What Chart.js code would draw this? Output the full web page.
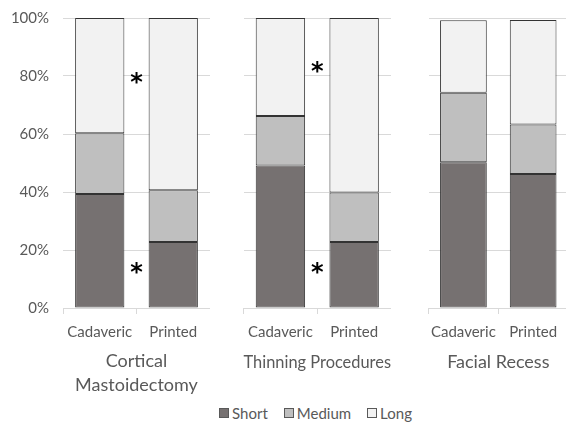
<!DOCTYPE html>
<html>
<head>
<meta charset="utf-8">
<script src="https://cdn.jsdelivr.net/npm/chart.js@4.4.2/dist/chart.umd.min.js"></script>
<style>
  html, body { margin: 0; padding: 0; background: #fff; overflow: hidden; }
  body { width: 566px; height: 423px; position: relative; font-family: Lato, sans-serif; }
  .panel { position: absolute; top: 0; height: 400px; }
  #legend {
    position: absolute; left: 63px; width: 505px; top: 403px; height: 20px;
    display: flex; justify-content: center; align-items: center;
    font-size: 15px; color: #595959;
  }
  #legend .item { display: flex; align-items: center; margin: 0 8px; }
  #legend .box { width: 8px; height: 8px; border: 1px solid #595959; margin-right: 3px; }
</style>
</head>
<body>
<div class="panel" style="left:0;width:210px"><canvas id="p1"></canvas></div>
<div class="panel" style="left:239px;width:152px"><canvas id="p2"></canvas></div>
<div class="panel" style="left:422px;width:146px"><canvas id="p3"></canvas></div>
<div id="legend"></div>
<script>
const categories = ['Cadaveric', 'Printed'];
const seriesNames = ['Short', 'Medium', 'Long'];
const seriesColors = ['#767171', '#bfbfbf', '#f2f2f2'];

// percent of procedures in each time band
const corticalShort = [39.3, 22.8];
const corticalMedium = [21.0, 17.8];
const corticalLong = [39.7, 59.4];

const thinningShort = [49.1, 22.8];
const thinningMedium = [17.1, 17.0];
const thinningLong = [33.8, 60.2];

const facialShort = [50.3, 46.2];
const facialMedium = [23.9, 17.1];
const facialLong = [25.0, 36.0];

// asterisks sit between the two bars, at these heights (%)
const corticalStars = [78.6, 13.1];
const thinningStars = [82.4, 13.1];
const facialStars = [];

const yTicks = [0, 20, 40, 60, 80, 100];

const textColor = '#595959';
const gridColor = '#d9d9d9';

const starPlugin = {
  id: 'stars',
  afterDatasetsDraw(chart, args, opts) {
    const ctx = chart.ctx;
    const x = chart.scales.x.getPixelForValue(0.5);
    ctx.save();
    ctx.fillStyle = '#000';
    ctx.font = 'bold 24px "DejaVu Sans"';
    ctx.textAlign = 'center';
    ctx.textBaseline = 'middle';
    opts.values.forEach((v) => {
      ctx.fillText('*', x, chart.scales.y.getPixelForValue(v) + 4);
    });
    ctx.restore();
  }
};

function makePanel(id, title, short, medium, long, stars, showAxis) {
  const oneLine = !Array.isArray(title);
  return new Chart(document.getElementById(id), {
    type: 'bar',
    data: {
      labels: categories,
      datasets: [short, medium, long].map((d, i) => ({
        label: seriesNames[i],
        data: d,
        backgroundColor: seriesColors[i],
        borderColor: '#333333',
        borderWidth: 1,
        borderSkipped: false,
        barPercentage: 0.67,
        categoryPercentage: 1
      }))
    },
    options: {
      responsive: true,
      maintainAspectRatio: false,
      animation: false,
      layout: { padding: { top: 18, right: 0, bottom: 0, left: 0 } },
      plugins: {
        legend: { display: false },
        tooltip: { enabled: false },
        stars: { values: stars }
      },
      scales: {
        x: {
          stacked: true,
          afterFit: (scale) => { scale.height = 92; },
          grid: {
            offset: true,
            drawOnChartArea: false,
            drawTicks: true,
            tickLength: 6,
            color: gridColor
          },
          border: { color: gridColor },
          ticks: {
            padding: 9,
            color: textColor,
            font: { family: 'Lato', size: 15 }
          },
          title: {
            display: true,
            text: title,
            color: textColor,
            font: { family: 'Lato', size: 18, lineHeight: 1.3 },
            padding: { top: 0, bottom: oneLine ? 26.5 : 3.5 }
          }
        },
        y: {
          stacked: true,
          min: 0,
          max: 100,
          afterFit: (scale) => { scale.width = showAxis ? 63 : 0; },
          afterBuildTicks: (scale) => { scale.ticks = yTicks.map((v) => ({ value: v })); },
          grid: { color: gridColor, drawTicks: false },
          border: { display: false },
          ticks: {
            display: showAxis,
            padding: 14,
            color: textColor,
            font: { family: 'Lato', size: 15, lineHeight: 0.1 },
            callback: (v) => v + '%'
          }
        }
      }
    },
    plugins: [starPlugin]
  });
}

makePanel('p1', ['Cortical', 'Mastoidectomy'], corticalShort, corticalMedium, corticalLong, corticalStars, true);
makePanel('p2', 'Thinning Procedures', thinningShort, thinningMedium, thinningLong, thinningStars, false);
makePanel('p3', 'Facial Recess', facialShort, facialMedium, facialLong, facialStars, false);

const legend = document.getElementById('legend');
seriesNames.forEach((name, i) => {
  const item = document.createElement('div');
  item.className = 'item';
  const box = document.createElement('span');
  box.className = 'box';
  box.style.background = seriesColors[i];
  const label = document.createElement('span');
  label.textContent = name;
  item.appendChild(box);
  item.appendChild(label);
  legend.appendChild(item);
});
</script>
</body>
</html>
